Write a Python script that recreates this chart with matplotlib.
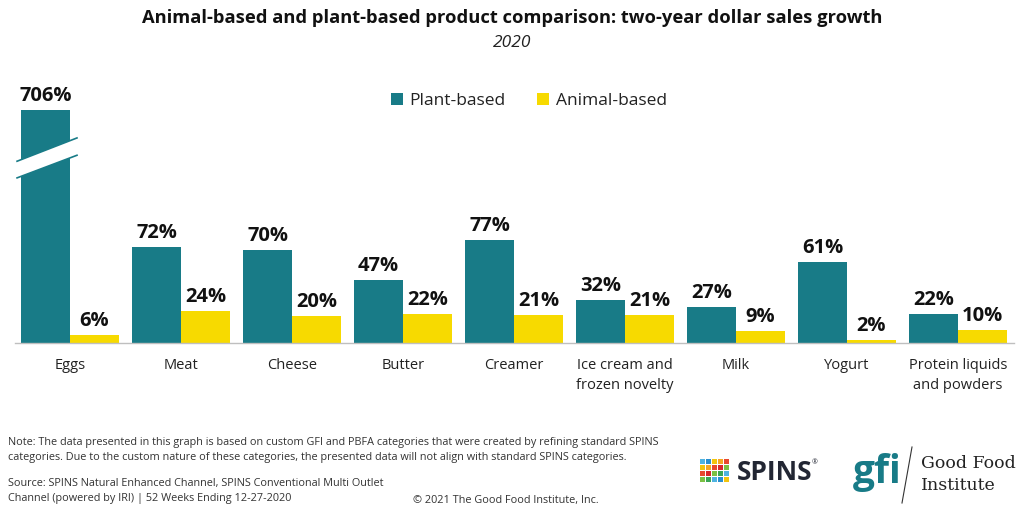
import numpy as np
import matplotlib.pyplot as plt
from matplotlib.patches import Polygon, Rectangle

categories = ['Eggs', 'Meat', 'Cheese', 'Butter', 'Creamer',
              'Ice cream and\nfrozen novelty', 'Milk', 'Yogurt',
              'Protein liquids\nand powders']
plant = [706, 72, 70, 47, 77, 32, 27, 61, 22]
animal = [6, 24, 20, 22, 21, 21, 9, 2, 10]

TEAL = '#187B87'
YELLOW = '#F7DA00'
CAP = 175  # height drawn for the broken eggs bar

plt.rcParams['font.family'] = ['Open Sans', 'DejaVu Sans']

fig = plt.figure(figsize=(10.24, 5.16), dpi=100)
ax = fig.add_axes([14.5/1024, 1-343/516, 999/1024, 253/516])

x = np.arange(len(categories))
w = 0.44
plant_drawn = [min(v, CAP) for v in plant]
bp = ax.bar(x - w/2, plant_drawn, w, color=TEAL, label='Plant-based')
ba = ax.bar(x + w/2, animal, w, color=YELLOW, label='Animal-based')

for xi, v, h in zip(x - w/2, plant, plant_drawn):
    ax.annotate('%d%%' % v, (xi, h), xytext=(0, 3), textcoords='offset points',
                ha='center', va='bottom', fontsize=14.5, fontweight='bold', color='#111111')
for xi, v in zip(x + w/2, animal):
    ax.annotate('%d%%' % v, (xi, v), xytext=(0, 3), textcoords='offset points',
                ha='center', va='bottom', fontsize=14.5, fontweight='bold', color='#111111')

# break marks on the eggs bar
x0, x1 = -0.477, 0.063
band = Polygon([(x0, 124), (x1, 141), (x1, 154), (x0, 136.5)], closed=True,
               facecolor='white', edgecolor='none', zorder=3, clip_on=False)
ax.add_patch(band)
ax.plot([x0, x1], [136.5, 154], color=TEAL, lw=1.2, zorder=4, clip_on=False)
ax.plot([x0, x1], [124, 141], color=TEAL, lw=1.2, zorder=4, clip_on=False)

ax.set_xlim(-0.5, 8.5)
ax.set_ylim(0, 190)
ax.set_yticks([])
ax.set_xticks(x)
ax.set_xticklabels(categories, fontsize=10.5, color='#222222', linespacing=1.45)
ax.tick_params(axis='x', length=0, pad=11)
for s in ['top', 'right', 'left']:
    ax.spines[s].set_visible(False)
ax.spines['bottom'].set_color('#bfbfbf')
ax.spines['bottom'].set_linewidth(1)

ax.legend(loc='upper center', bbox_to_anchor=(0.515, 1.05), ncol=2, frameon=False,
          fontsize=12.5, handlelength=0.7, handleheight=0.7, handletextpad=0.4,
          columnspacing=1.8, labelcolor='#222222')

fig.text(0.5, 1-18/516, 'Animal-based and plant-based product comparison: two-year dollar sales growth',
         ha='center', va='center', fontsize=13.2, fontweight='bold', color='#111111')
fig.text(0.5, 1-43/516, '2020', ha='center', va='center', fontsize=12.5,
         style='italic', color='#222222')

note = ('Note: The data presented in this graph is based on custom GFI and PBFA categories that were created by refining standard SPINS\n'
        'categories. Due to the custom nature of these categories, the presented data will not align with standard SPINS categories.')
fig.text(8/1024, 1-437/516, note, ha='left', va='top', fontsize=7.8, color='#333333', linespacing=1.5)
src = ('Source: SPINS Natural Enhanced Channel, SPINS Conventional Multi Outlet\n'
       'Channel (powered by IRI) | 52 Weeks Ending 12-27-2020')
fig.text(8/1024, 1-478/516, src, ha='left', va='top', fontsize=7.8, color='#333333', linespacing=1.5)
fig.text(413/1024, 1-501/516, '\u00a9 2021 The Good Food Institute, Inc.', ha='left', va='center',
         fontsize=7.8, color='#333333')

# logos, approximated with text and shapes
lax = fig.add_axes([0, 0, 1, 1], zorder=-1)
lax.set_xlim(0, 1024)
lax.set_ylim(516, 0)
lax.axis('off')
gcols = ['#4fb3e0', '#2a8fd0', '#f2c40f', '#f5a623', '#e8482f', '#d9262c', '#7bc043', '#3aa655']
for i in range(5):
    for j in range(4):
        lax.add_patch(Rectangle((700 + i*6, 459 + j*6), 4.5, 4.5,
                                color=gcols[(i + j*2) % len(gcols)], lw=0))
lax.text(737, 472, 'SPINS', fontsize=19, fontweight='bold', color='#222633', va='center', ha='left')
lax.text(812, 463, '\u00ae', fontsize=5, color='#222633', va='center', ha='left')
lax.text(853, 473, 'gfi', fontsize=28, fontweight='bold', color=TEAL, va='center', ha='left')
lax.plot([912, 902], [447, 503], color='#333333', lw=0.8)
lax.text(921, 464, 'Good Food', fontsize=12.5, color='#222222', va='center', ha='left', family='DejaVu Serif')
lax.text(921, 485, 'Institute', fontsize=12.5, color='#222222', va='center', ha='left', family='DejaVu Serif')

fig.savefig('out.png', dpi=100, facecolor='white')
